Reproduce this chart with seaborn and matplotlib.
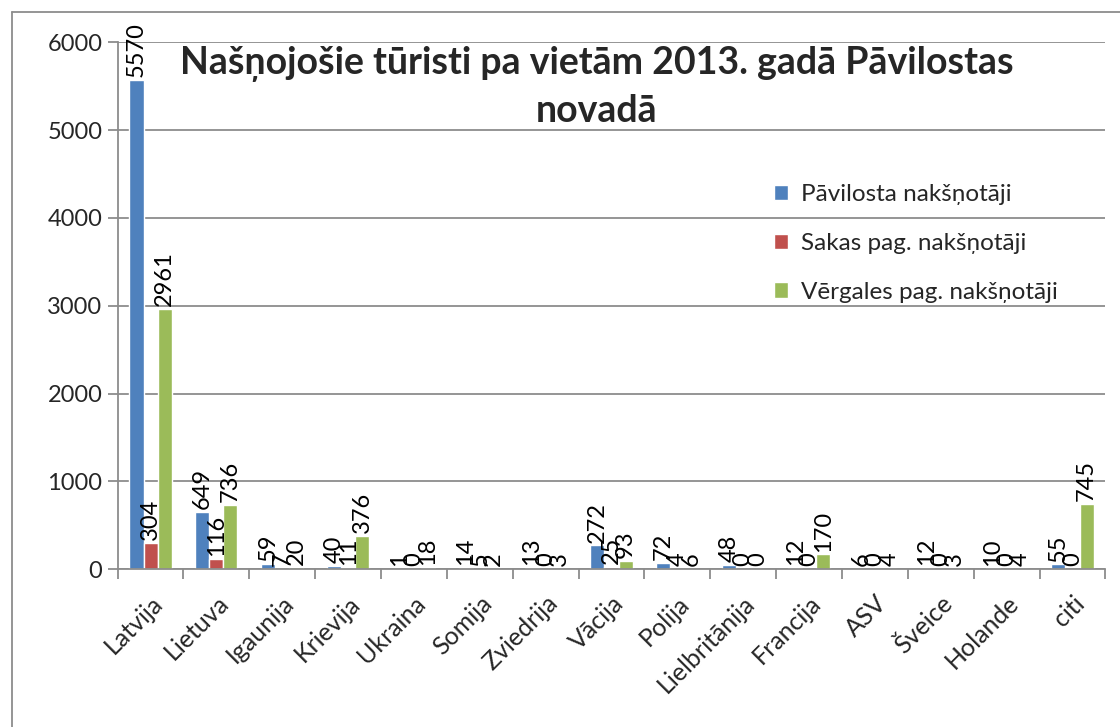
import pandas as pd
import matplotlib.pyplot as plt
import seaborn as sns
from matplotlib.lines import Line2D

# dati no attēla
valstis = ["Latvija", "Lietuva", "Igaunija", "Krievija", "Ukraina", "Somija", "Zviedrija",
           "Vācija", "Polija", "Lielbritānija", "Francija", "ASV", "Šveice", "Holande", "citi"]
pavilosta = [5570, 649, 59, 40, 1, 14, 13, 272, 72, 48, 12, 6, 12, 10, 55]
sakas = [304, 116, 7, 11, 0, 5, 0, 25, 4, 0, 0, 0, 0, 0, 0]
vergales = [2961, 736, 20, 376, 18, 2, 3, 93, 6, 0, 170, 4, 3, 4, 745]
serijas = ["Pāvilosta nakšņotāji", "Sakas pag. nakšņotāji", "Vērgales pag. nakšņotāji"]
krasas = ["#4F81BD", "#C0504D", "#9BBB59"]
y_ticks = [0, 1000, 2000, 3000, 4000, 5000, 6000]

sns.set_theme(style="white")
plt.rcParams['font.family'] = ['Lato', 'DejaVu Sans']

df = pd.DataFrame({
    "Valsts": valstis * 3,
    "Skaits": pavilosta + sakas + vergales,
    "Serija": [serijas[0]] * len(valstis) + [serijas[1]] * len(valstis) + [serijas[2]] * len(valstis),
})

fig = plt.figure(figsize=(11.2, 7.27), dpi=100)
ax = fig.add_axes([0.105, 0.217, 0.882, 0.725])
sns.barplot(data=df, x="Valsts", y="Skaits", hue="Serija", palette=krasas,
            width=0.64, saturation=1, ax=ax, errorbar=None)

for c in ax.containers:
    ax.bar_label(c, rotation=90, padding=2, fontsize=17, color="black")

ax.set_ylim(0, 6000)
ax.set_yticks(y_ticks)
ax.set_xlim(-0.5, len(valstis) - 0.5)
ax.yaxis.grid(True, color="#8c8c8c", linewidth=1.3)
ax.set_axisbelow(True)
ax.set_xlabel("")
ax.set_ylabel("")

for s in ["top", "right"]:
    ax.spines[s].set_visible(False)
for s in ["left", "bottom"]:
    ax.spines[s].set_color("#8c8c8c")
    ax.spines[s].set_linewidth(1.3)

ax.tick_params(axis="y", labelsize=17, length=7, width=1.3, color="#8c8c8c", direction="out", left=True, pad=4)
ax.set_xticks(range(len(valstis)))
ax.set_xticklabels(valstis, rotation=45, ha="right", rotation_mode="anchor", fontsize=18)
ax.tick_params(axis="x", which="major", length=0, pad=16)
ax.set_xticks([i - 0.5 for i in range(len(valstis) + 1)], minor=True)
ax.tick_params(axis="x", which="minor", length=7, width=1.3, color="#8c8c8c", direction="out", bottom=True)

leg = ax.legend(loc="upper left", bbox_to_anchor=(752 / 1120, 1 - 162 / 727), bbox_transform=fig.transFigure,
                frameon=False, fontsize=17.5, handlelength=0.6, handleheight=0.6, labelspacing=1.15,
                handletextpad=0.5)

fig.text(0.533, 1 - 87 / 727, "Našņojošie tūristi pa vietām 2013. gadā Pāvilostas\nnovadā",
         ha="center", va="center", fontsize=27, fontweight="bold", linespacing=1.45)

# rāmis ap diagrammu
fig.add_artist(Line2D([12 / 1120, 12 / 1120], [0, 1 - 12 / 727], transform=fig.transFigure, color="#8c8c8c", lw=1.3))
fig.add_artist(Line2D([12 / 1120, 1], [1 - 12 / 727, 1 - 12 / 727], transform=fig.transFigure, color="#8c8c8c", lw=1.3))

plt.savefig("out.png", dpi=100)
plt.close()
